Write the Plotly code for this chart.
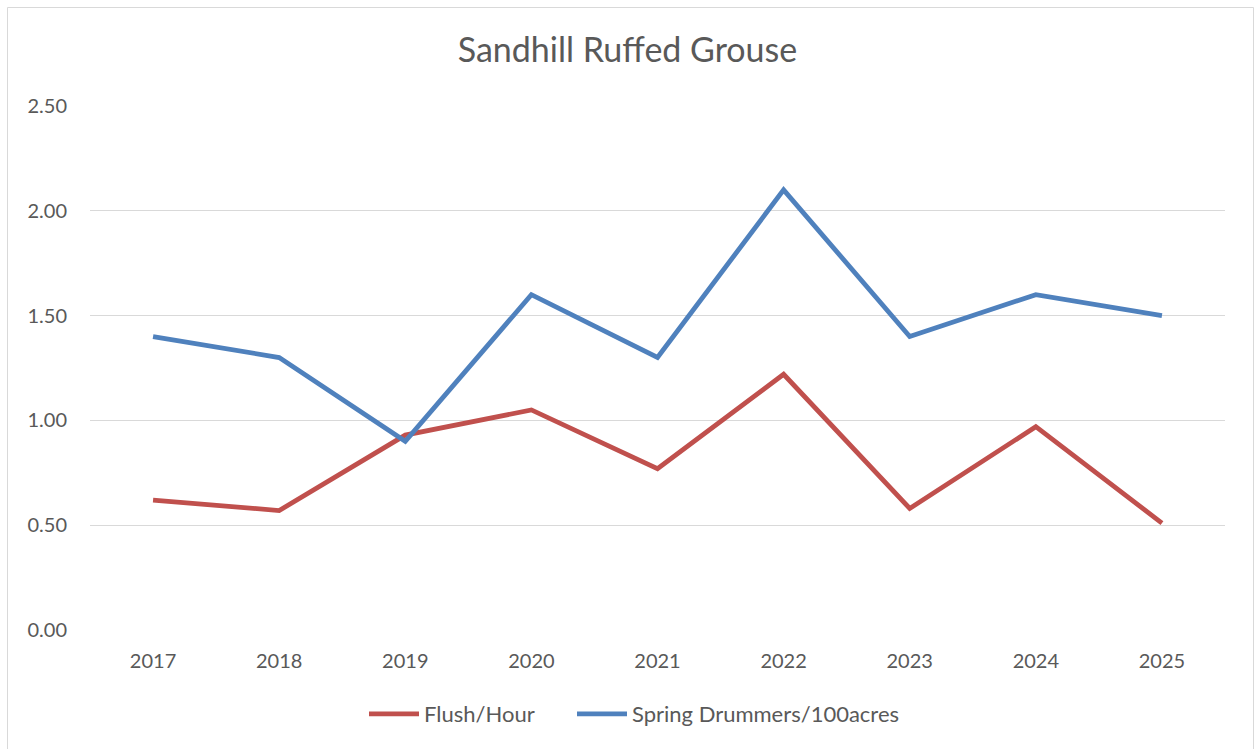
import plotly.graph_objects as go

years = ["2017", "2018", "2019", "2020", "2021", "2022", "2023", "2024", "2025"]
flush_per_hour = [0.62, 0.57, 0.93, 1.05, 0.77, 1.22, 0.58, 0.97, 0.51]
drummers = [1.40, 1.30, 0.90, 1.60, 1.30, 2.10, 1.40, 1.60, 1.50]
y_ticks = [0, 0.5, 1.0, 1.5, 2.0, 2.5]

W, H = 1255, 749
L, R, T, B = 90, 30, 106, 119

fig = go.Figure()
fig.add_trace(go.Scatter(x=years, y=flush_per_hour, mode="lines", name="Flush/Hour",
                         line=dict(color="#C0504D", width=4.8), legend="legend"))
fig.add_trace(go.Scatter(x=years, y=drummers, mode="lines", name="Spring Drummers/100acres",
                         line=dict(color="#4F81BD", width=4.8), legend="legend2"))

# outer chart border (Excel-style frame)
pw, ph = W - L - R, H - T - B
fig.add_shape(type="rect", xref="paper", yref="paper",
              x0=(7.5 - L) / pw, x1=(1253.5 - L) / pw,
              y0=-(B + 10) / ph, y1=1 + (T - 7.5) / ph,
              line=dict(color="#D9D9D9", width=1), layer="below")

legend_style = dict(orientation="h", xanchor="left",
                    y=-(714 - (H - B)) / ph, yanchor="middle",
                    font=dict(size=22, color="#595959"), itemwidth=50)

fig.update_layout(
    width=W, height=H,
    margin=dict(l=L, r=R, t=T, b=B),
    paper_bgcolor="white", plot_bgcolor="white",
    font=dict(family="Lato, sans-serif", size=20, color="#595959"),
    title=dict(text="Sandhill Ruffed Grouse", x=0.5, xanchor="center",
               y=1 - 50 / H, yanchor="middle",
               font=dict(size=34, color="#595959")),
    xaxis=dict(type="category", range=[-0.5, 8.5], showgrid=False,
               showline=False, ticks="", ticklabelstandoff=17),
    yaxis=dict(range=[0, 2.5], tickvals=y_ticks, tickformat=".2f",
               gridcolor="#D9D9D9", gridwidth=1, zeroline=False,
               showline=False, ticks="", ticklabelstandoff=22),
    legend=dict(x=(364 - L) / pw, **legend_style),
    legend2=dict(x=(572 - L) / pw, **legend_style),
    showlegend=True,
)
fig.update_yaxes(showgrid=True)

fig.write_html("out.html", config={"displayModeBar": False},
               post_script="document.body.style.margin='0';")
